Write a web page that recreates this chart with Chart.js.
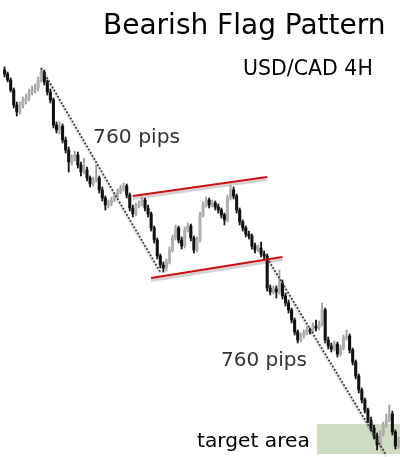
<!DOCTYPE html>
<html>
<head>
<meta charset="utf-8">
<script src="https://cdn.jsdelivr.net/npm/chart.js@4.4.1/dist/chart.umd.min.js"></script>
<style>
  html, body { margin: 0; padding: 0; background: #fff; }
  #wrap { position: relative; width: 400px; height: 457px; overflow: hidden; }
  canvas { position: absolute; left: 0; top: 0; }
  .lbl { position: absolute; white-space: nowrap; line-height: 1; font-family: "DejaVu Sans", Verdana, sans-serif; }
</style>
</head>
<body>
<div id="wrap">
  <canvas id="c" width="400" height="457"></canvas>
  <div class="lbl" style="left:103px;top:11px;font-size:28px;color:#000;">Bearish Flag Pattern</div>
  <div class="lbl" style="left:243px;top:58px;font-size:20.5px;color:#000;">USD/CAD 4H</div>
  <div class="lbl" style="left:93px;top:126px;font-size:20.3px;color:#333;">760 pips</div>
  <div class="lbl" style="left:221px;top:349px;font-size:20px;color:#333;">760 pips</div>
  <div class="lbl" style="left:197px;top:430px;font-size:20.2px;color:#000;">target area</div>
</div>
<script>
// ---- OHLC data (USD/CAD 4H), index 0 left empty ----
const opens = [null,
 1.3650,1.3630,1.3600,1.3550,1.3475,1.3440,1.3475,1.3500,1.3510,1.3540,
 1.3550,1.3560,1.3600,1.3640,1.3590,1.3540,1.3500,1.3375,1.3350,1.3370,
 1.3300,1.3250,1.3190,1.3210,1.3225,1.3175,1.3140,1.3150,1.3110,1.3080,
 1.3100,1.3110,1.3050,1.3010,1.2975,1.2985,1.3000,1.3020,1.3040,1.3060,
 1.3070,1.3025,1.2960,1.2930,1.2970,1.2980,1.3000,1.2960,1.2930,1.2860,
 1.2800,1.2720,1.2675,1.2660,1.2690,1.2750,1.2810,1.2860,1.2800,1.2770,
 1.2850,1.2870,1.2810,1.2750,1.2800,1.2925,1.2975,1.3000,1.2975,1.2985,
 1.2965,1.2950,1.2925,1.2900,1.3010,1.3050,1.3020,1.2950,1.2890,1.2860,
 1.2830,1.2820,1.2770,1.2750,1.2760,1.2730,1.2720,1.2560,1.2540,1.2555,
 1.2540,1.2585,1.2520,1.2485,1.2450,1.2400,1.2340,1.2300,1.2320,1.2335,
 1.2350,1.2345,1.2370,1.2360,1.2380,1.2450,1.2300,1.2270,1.2255,1.2280,
 1.2230,1.2260,1.2310,1.2320,1.2250,1.2190,1.2120,1.2050,1.2000,1.1950,
 1.1900,1.1860,1.1820,1.1775,1.1830,1.1875,1.1900,1.1930,1.1840,1.1770];
const closes = [null,
 1.3630,1.3600,1.3550,1.3475,1.3440,1.3475,1.3500,1.3510,1.3540,1.3550,
 1.3560,1.3600,1.3640,1.3590,1.3540,1.3500,1.3375,1.3350,1.3370,1.3300,
 1.3250,1.3190,1.3210,1.3225,1.3175,1.3140,1.3150,1.3110,1.3080,1.3100,
 1.3110,1.3050,1.3010,1.2975,1.2985,1.3000,1.3020,1.3040,1.3060,1.3070,
 1.3025,1.2960,1.2930,1.2970,1.2980,1.3000,1.2960,1.2930,1.2860,1.2800,
 1.2720,1.2675,1.2660,1.2690,1.2750,1.2810,1.2860,1.2800,1.2770,1.2850,
 1.2870,1.2810,1.2750,1.2800,1.2925,1.2975,1.3000,1.2975,1.2985,1.2965,
 1.2950,1.2925,1.2900,1.3010,1.3050,1.3020,1.2950,1.2890,1.2860,1.2830,
 1.2820,1.2770,1.2750,1.2760,1.2730,1.2720,1.2560,1.2540,1.2555,1.2540,
 1.2585,1.2520,1.2485,1.2450,1.2400,1.2340,1.2300,1.2320,1.2335,1.2350,
 1.2345,1.2370,1.2360,1.2380,1.2450,1.2300,1.2270,1.2255,1.2280,1.2230,
 1.2260,1.2310,1.2320,1.2250,1.2190,1.2120,1.2050,1.2000,1.1950,1.1900,
 1.1860,1.1820,1.1775,1.1830,1.1875,1.1900,1.1930,1.1840,1.1770,1.1800];
const highs = [null,
 1.3665,1.3640,1.3610,1.3560,1.3490,1.3490,1.3515,1.3530,1.3555,1.3570,
 1.3580,1.3615,1.3660,1.3650,1.3600,1.3555,1.3510,1.3390,1.3390,1.3380,
 1.3315,1.3265,1.3225,1.3245,1.3240,1.3190,1.3210,1.3165,1.3120,1.3115,
 1.3175,1.3120,1.3065,1.3020,1.3000,1.3015,1.3035,1.3055,1.3075,1.3085,
 1.3080,1.3035,1.2975,1.2985,1.2995,1.3015,1.3010,1.2975,1.2940,1.2870,
 1.2810,1.2730,1.2690,1.2705,1.2765,1.2825,1.2875,1.2870,1.2815,1.2865,
 1.2885,1.2880,1.2820,1.2815,1.2940,1.2990,1.3015,1.3010,1.3000,1.2995,
 1.2980,1.2960,1.2935,1.3025,1.3075,1.3065,1.3030,1.2960,1.2900,1.2870,
 1.2845,1.2830,1.2785,1.2775,1.2790,1.2745,1.2730,1.2575,1.2570,1.2570,
 1.2650,1.2600,1.2535,1.2500,1.2460,1.2410,1.2350,1.2335,1.2350,1.2365,
 1.2360,1.2385,1.2400,1.2395,1.2485,1.2460,1.2315,1.2285,1.2295,1.2290,
 1.2275,1.2325,1.2350,1.2330,1.2260,1.2200,1.2130,1.2060,1.2010,1.1960,
 1.1915,1.1875,1.1835,1.1845,1.1890,1.1930,1.1975,1.1945,1.1850,1.1815];
const lows = [null,
 1.3615,1.3590,1.3540,1.3460,1.3420,1.3430,1.3460,1.3480,1.3495,1.3525,
 1.3535,1.3545,1.3590,1.3575,1.3525,1.3485,1.3360,1.3335,1.3330,1.3285,
 1.3235,1.3140,1.3175,1.3195,1.3160,1.3120,1.3130,1.3095,1.3065,1.3070,
 1.3090,1.3035,1.2995,1.2950,1.2960,1.2970,1.2990,1.3005,1.3030,1.3045,
 1.3010,1.2945,1.2915,1.2920,1.2960,1.2970,1.2945,1.2915,1.2845,1.2785,
 1.2705,1.2660,1.2640,1.2645,1.2680,1.2740,1.2800,1.2785,1.2755,1.2760,
 1.2840,1.2795,1.2735,1.2740,1.2790,1.2915,1.2965,1.2960,1.2965,1.2950,
 1.2935,1.2910,1.2875,1.2890,1.3000,1.3005,1.2935,1.2875,1.2845,1.2815,
 1.2805,1.2755,1.2735,1.2740,1.2715,1.2705,1.2545,1.2525,1.2530,1.2510,
 1.2530,1.2505,1.2470,1.2435,1.2385,1.2325,1.2285,1.2290,1.2310,1.2325,
 1.2330,1.2335,1.2345,1.2350,1.2370,1.2285,1.2255,1.2240,1.2245,1.2215,
 1.2220,1.2250,1.2300,1.2235,1.2175,1.2105,1.2035,1.1985,1.1935,1.1885,
 1.1845,1.1805,1.1750,1.1765,1.1820,1.1865,1.1890,1.1825,1.1755,1.1760];

// ---- annotation anchors: [bar index, price] ----
const impulseLeg1 = [[13, 1.3660], [52, 1.2640]];
const impulseLeg2 = [[87, 1.2710], [126, 1.1725]];
const flagUpper   = [[43, 1.3020], [87, 1.3115]];
const flagLower   = [[49, 1.2610], [92, 1.2715]];
const targetZone  = { fromIndex: 103.3, toIndex: 131, high: 1.1880, low: 1.1730 };
const priceMin = 1.1715, priceMax = 1.4000;

const labels = opens.map((_, i) => String(i));
const bullish = i => closes[i] != null && closes[i] > opens[i];

function lineData(pts, shift) {
  const arr = labels.map(() => null);
  pts.forEach(([i, p]) => { arr[i] = p + (shift || 0); });
  return arr;
}

const wickData = lows.map((l, i) => l == null ? null : [l, highs[i]]);
const bodyData = opens.map((o, i) => o == null ? null : [o, closes[i]]);

const zonePlugin = {
  id: 'zone',
  beforeDatasetsDraw(chart) {
    const { ctx, scales: { x, y } } = chart;
    const x0 = x.getPixelForValue(targetZone.fromIndex);
    const x1 = x.getPixelForValue(targetZone.toIndex);
    const y0 = y.getPixelForValue(targetZone.high);
    const y1 = y.getPixelForValue(targetZone.low);
    ctx.save();
    ctx.fillStyle = 'rgb(206,220,194)';
    ctx.fillRect(x0, y0, x1 - x0, y1 - y0);
    ctx.restore();
  }
};

const shadow = 'rgba(110,110,110,0.3)';
new Chart(document.getElementById('c'), {
  type: 'bar',
  data: {
    labels,
    datasets: [
      { type: 'line', data: lineData(flagUpper, -0.0012), borderColor: shadow, borderWidth: 3, pointRadius: 0, spanGaps: true, order: 6 },
      { type: 'line', data: lineData(flagLower, -0.0012), borderColor: shadow, borderWidth: 3, pointRadius: 0, spanGaps: true, order: 6 },
      { type: 'line', data: lineData(impulseLeg1, -0.0008), borderColor: 'rgba(0,0,0,0.10)', borderWidth: 3, pointRadius: 0, spanGaps: true, order: 6 },
      { type: 'line', data: lineData(impulseLeg2, -0.0008), borderColor: 'rgba(0,0,0,0.10)', borderWidth: 3, pointRadius: 0, spanGaps: true, order: 6 },
      { type: 'line', data: lineData(flagUpper), borderColor: '#cc1010', borderWidth: 2, pointRadius: 0, spanGaps: true, order: 1 },
      { type: 'line', data: lineData(flagLower), borderColor: '#cc1010', borderWidth: 2, pointRadius: 0, spanGaps: true, order: 1 },
      { type: 'line', data: lineData(impulseLeg1), borderColor: '#3a3a3a', borderWidth: 1.8, borderDash: [1.8, 1.8], pointRadius: 0, spanGaps: true, order: 2 },
      { type: 'line', data: lineData(impulseLeg2), borderColor: '#3a3a3a', borderWidth: 1.8, borderDash: [1.8, 1.8], pointRadius: 0, spanGaps: true, order: 2 },
      { label: 'wick', data: wickData, grouped: false, barThickness: 1.2, borderWidth: 0, borderSkipped: false,
        backgroundColor: c => bullish(c.dataIndex) ? '#a0a0a0' : '#1a1a1a', order: 4 },
      { label: 'body', data: bodyData, grouped: false, barThickness: 2.4, borderWidth: 0, borderSkipped: false,
        backgroundColor: c => bullish(c.dataIndex) ? '#b0b0b0' : '#111', order: 3 }
    ]
  },
  options: {
    responsive: false,
    animation: false,
    layout: { padding: 0 },
    plugins: { legend: { display: false }, tooltip: { enabled: false }, title: { display: false } },
    scales: {
      x: { display: false, offset: true },
      y: { display: false, min: priceMin, max: priceMax }
    }
  },
  plugins: [zonePlugin]
});
</script>
</body>
</html>
